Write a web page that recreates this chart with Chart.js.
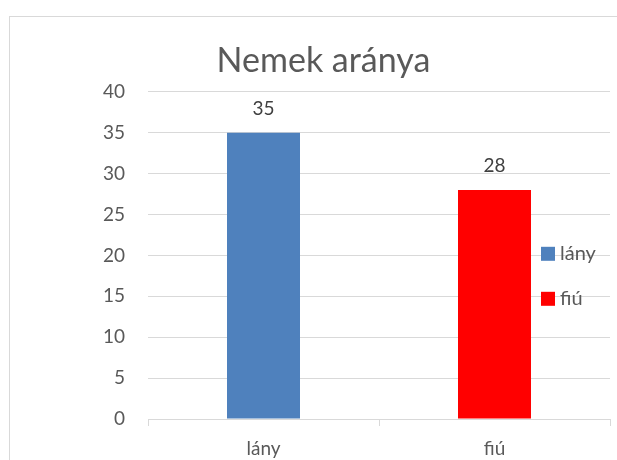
<!DOCTYPE html>
<html>
<head>
<meta charset="utf-8">
<script src="https://cdn.jsdelivr.net/npm/chart.js@4/dist/chart.umd.min.js"></script>
<style>
  html, body { margin: 0; background: #fff; overflow: hidden; }
  #frame { position: absolute; left: 9px; top: 16px; width: 607px; height: 443px;
           border-left: 1px solid #d9d9d9; border-top: 1px solid #d9d9d9; }
  #chart { display: block; }
</style>
</head>
<body>
<div id="frame"><canvas id="chart" width="607" height="443"></canvas></div>
<script>
const categories = ['lány', 'fiú'];
const values = [35, 28];
const barColors = ['#4f81bd', '#ff0000'];
const yMin = 0, yMax = 40, yStep = 5;
const titleText = 'Nemek aránya';

const fontFamily = 'Lato, "Open Sans", sans-serif';
const textColor = '#595959';
const gridColor = '#d9d9d9';

// value labels above the bars
const barLabels = {
  id: 'barLabels',
  afterDatasetsDraw(chart) {
    const ctx = chart.ctx;
    const meta = chart.getDatasetMeta(0);
    ctx.save();
    ctx.font = '19px ' + fontFamily;
    ctx.fillStyle = '#404040';
    ctx.textAlign = 'center';
    ctx.textBaseline = 'alphabetic';
    meta.data.forEach((bar, i) => {
      ctx.fillText(String(values[i]), bar.x, bar.y - 18);
    });
    ctx.restore();
  }
};

// legend drawn over the plot, like the excel one
const overlayLegend = {
  id: 'overlayLegend',
  afterDraw(chart) {
    const ctx = chart.ctx;
    const area = chart.chartArea;
    ctx.save();
    ctx.font = '20px ' + fontFamily;
    ctx.textBaseline = 'middle';
    ctx.textAlign = 'left';
    categories.forEach((c, i) => {
      const cy = area.top + 162 + i * 45;
      const x = area.right - 69;
      ctx.fillStyle = barColors[i];
      ctx.fillRect(x, cy - 7, 14, 14);
      ctx.fillStyle = textColor;
      ctx.fillText(c, x + 19, cy);
    });
    ctx.restore();
  }
};

new Chart(document.getElementById('chart'), {
  type: 'bar',
  data: {
    labels: categories,
    datasets: [{
      data: values,
      backgroundColor: barColors,
      borderWidth: 0,
      barPercentage: 0.316,
      categoryPercentage: 1
    }]
  },
  options: {
    responsive: false,
    animation: false,
    layout: { padding: { left: 27, right: 7, top: 0, bottom: 0 } },
    plugins: {
      legend: { display: false },
      tooltip: { enabled: false },
      title: {
        display: true,
        text: titleText,
        color: textColor,
        font: { family: fontFamily, size: 34, weight: 'normal', lineHeight: 1.2 },
        padding: { top: 24, bottom: 10 }
      }
    },
    scales: {
      x: {
        grid: { drawOnChartArea: false, drawTicks: true, tickLength: 7, color: gridColor },
        border: { display: true, color: gridColor },
        ticks: { color: textColor, font: { family: fontFamily, size: 19 }, padding: 11 },
        afterFit(scale) { scale.height = 41; }
      },
      y: {
        min: yMin,
        max: yMax,
        ticks: { stepSize: yStep, color: textColor, font: { family: fontFamily, size: 19 }, padding: 23 },
        grid: { color: gridColor, drawTicks: false },
        border: { display: false },
        afterFit(scale) { scale.width = 111; }
      }
    }
  },
  plugins: [barLabels, overlayLegend]
});
</script>
</body>
</html>
